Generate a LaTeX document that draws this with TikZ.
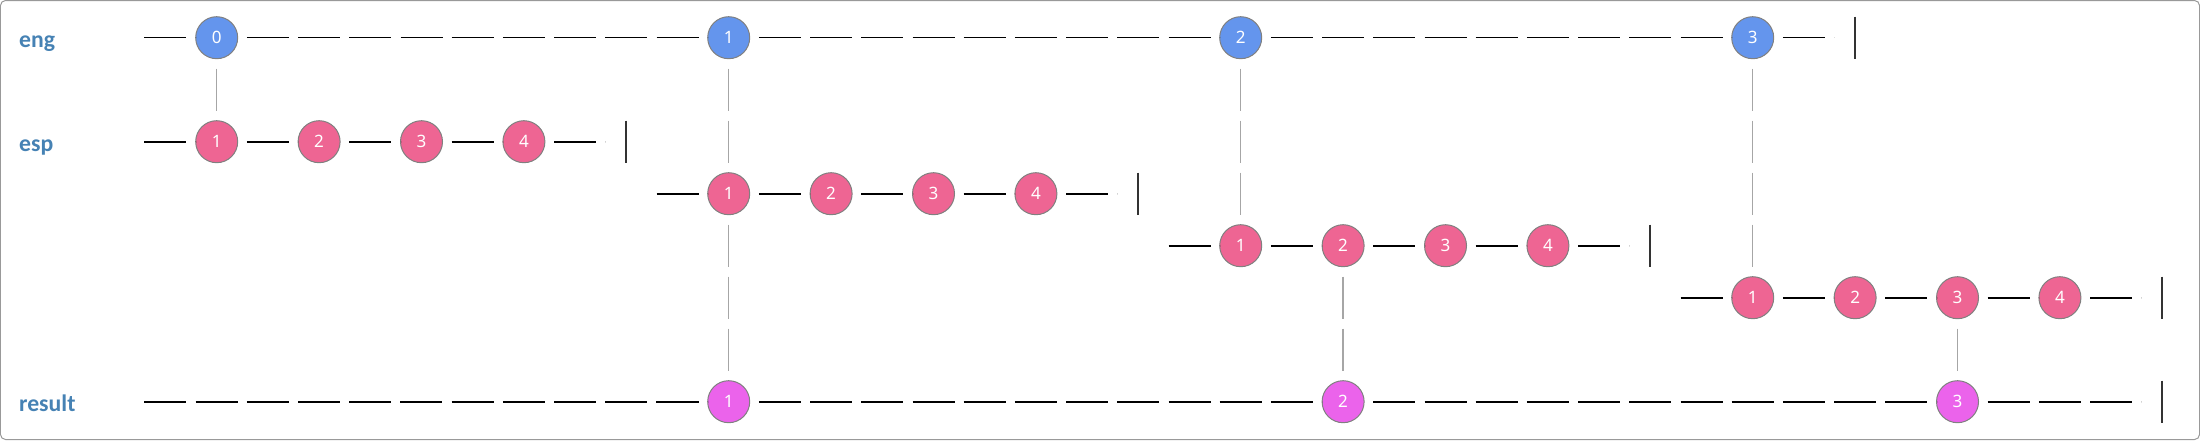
\documentclass[tikz,border=0pt]{standalone}
\usepackage{fontspec}
\setmainfont{Noto Sans}
\newfontfamily\fuenteEtiqueta{Carlito}
\usepackage{xcolor}
\usepackage{tikz}
\usetikzlibrary{positioning}

\definecolor{azulEng}{HTML}{6495ED}
\definecolor{rosaEsp}{HTML}{EE6593}
\definecolor{magentaRes}{HTML}{EB63EB}
\definecolor{azulEtiqueta}{HTML}{4682B4}

\begin{document}
\begin{tikzpicture}[
    x=1.024cm, y=-1.04cm, % Una casilla horizontal y una vertical
    bola/.style={circle, draw=gray, line width=0.2mm, minimum size=8.4mm, inner sep=0pt, outer sep=0pt,
        text=white, font=\fontsize{9.7pt}{11pt}\selectfont}, % Estilo para las bolas
    eng/.style={bola, fill=azulEng},
    esp/.style={bola, fill=rosaEsp},
    res/.style={bola, fill=magentaRes},
    fin/.style={rectangle, minimum size=8.4mm, inner sep=0pt, outer sep=0pt}, % Hueco de la barra final
    barra/.style={line width=0.4mm, black!80}, % Barra de fin de la secuencia
    linea/.style={line width=0.4mm, dash pattern=on 8.4mm off 1.84mm, dash phase=8.4mm}, % Linea de tiempo
    lineafina/.style={linea, line width=0.25mm},
    enlace/.style={gray!70, line width=0.3mm, dash pattern=on 8.4mm off 2mm, dash phase=8.4mm}, % Enlaces verticales
    etiqueta/.style={anchor=base west, yshift=-2mm, text=azulEtiqueta,
        font=\fuenteEtiqueta\bfseries\fontsize{13.5pt}{16pt}\selectfont}
]
    % --- Marco ---
    \useasboundingbox (-43.34mm,7.54mm) rectangle (396.66mm,-80.46mm);
    \draw[gray!80, line width=0.2mm, rounded corners=1mm] (-43.24mm,7.44mm) rectangle (396.56mm,-80.36mm);

    % --- Etiquetas de las filas ---
    \node[etiqueta] (Leng) at (-3.98,0) {eng};
    \node[etiqueta] (Lesp) at (-3.98,2) {esp};
    \node[etiqueta] (Lres) at (-3.98,7) {result};

    % --- Fila eng ---
    \coordinate (Eini) at (-1.59,0);
    \node[eng] (E0) at (0,0) {0};
    \node[eng] (E1) at (10,0) {1};
    \node[eng] (E2) at (20,0) {2};
    \node[eng] (E3) at (30,0) {3};
    \node[fin] (Efin) at (32,0) {};

    % --- Filas esp (una por cada valor de eng) ---
    \coordinate (Aini) at (-1.59,2);
    \node[esp] (A1) at (0,2) {1};
    \node[esp] (A2) at (2,2) {2};
    \node[esp] (A3) at (4,2) {3};
    \node[esp] (A4) at (6,2) {4};
    \node[fin] (Afin) at (8,2) {};

    \coordinate (Bini) at (8.41,3);
    \node[esp] (B1) at (10,3) {1};
    \node[esp] (B2) at (12,3) {2};
    \node[esp] (B3) at (14,3) {3};
    \node[esp] (B4) at (16,3) {4};
    \node[fin] (Bfin) at (18,3) {};

    \coordinate (Cini) at (18.41,4);
    \node[esp] (C1) at (20,4) {1};
    \node[esp] (C2) at (22,4) {2};
    \node[esp] (C3) at (24,4) {3};
    \node[esp] (C4) at (26,4) {4};
    \node[fin] (Cfin) at (28,4) {};

    \coordinate (Dini) at (28.41,5);
    \node[esp] (D1) at (30,5) {1};
    \node[esp] (D2) at (32,5) {2};
    \node[esp] (D3) at (34,5) {3};
    \node[esp] (D4) at (36,5) {4};
    \node[fin] (Dfin) at (38,5) {};

    % --- Fila result ---
    \coordinate (Rini) at (-1.59,7);
    \node[res] (R1) at (10,7) {1};
    \node[res] (R2) at (22,7) {2};
    \node[res] (R3) at (34,7) {3};
    \node[fin] (Rfin) at (38,7) {};

    % --- Lineas de tiempo ---
    \draw[lineafina] (Eini) -- (E0) -- (E1) -- (E2) -- (E3) -- (Efin);
    \draw[linea] (Aini) -- (A1) -- (A2) -- (A3) -- (A4) -- (Afin);
    \draw[linea] (Bini) -- (B1) -- (B2) -- (B3) -- (B4) -- (Bfin);
    \draw[linea] (Cini) -- (C1) -- (C2) -- (C3) -- (C4) -- (Cfin);
    \draw[linea] (Dini) -- (D1) -- (D2) -- (D3) -- (D4) -- (Dfin);
    \draw[linea] (Rini) -- (R1) -- (R2) -- (R3) -- (Rfin);

    % Barras de fin
    \draw[barra] (Efin.north) -- (Efin.south);
    \draw[barra] (Afin.north) -- (Afin.south);
    \draw[barra] (Bfin.north) -- (Bfin.south);
    \draw[barra] (Cfin.north) -- (Cfin.south);
    \draw[barra] (Dfin.north) -- (Dfin.south);
    \draw[barra] (Rfin.north) -- (Rfin.south);

    % --- Enlaces verticales ---
    \draw[enlace] (E0) -- (A1);
    \draw[enlace] (E1) -- (B1);
    \draw[enlace] (E2) -- (C1);
    \draw[enlace] (E3) -- (D1);
    \draw[enlace] (B1) -- (R1); % esp 1 -> result 1
    \draw[enlace] (C2) -- (R2); % esp 2 -> result 2
    \draw[enlace] (D3) -- (R3); % esp 3 -> result 3

\end{tikzpicture}
\end{document}
